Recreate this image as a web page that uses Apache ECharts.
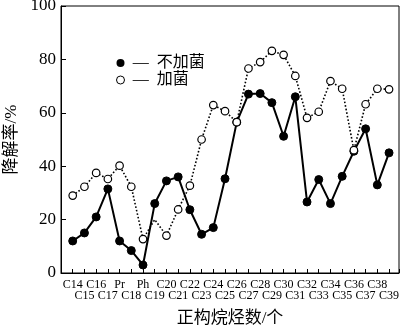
<!DOCTYPE html>
<html>
<head>
<meta charset="utf-8">
<script src="https://cdn.jsdelivr.net/npm/echarts@6/dist/echarts.min.js"></script>
<style>
html,body{margin:0;padding:0;background:#fff;}
#c{width:400px;height:327px;}
</style>
</head>
<body>
<div id="c"></div>
<script>
const categories = ['C14','C15','C16','C17','Pr','C18','Ph','C19','C20','C21','C22','C23','C24','C25','C26','C27','C28','C29','C30','C31','C32','C33','C34','C35','C36','C37','C38','C39'];
const noBacteria = [12,15,21,31.5,12,8.4,3,26,34.5,36,23.7,14.5,17,35.3,56.5,67,67.2,63.8,51.2,66,26.6,35,26,36.2,45.6,54,33,45];
const withBacteria = [29,32.3,37.5,35.2,40.2,32.3,12.7,20,14,23.8,32.7,50,62.9,60.6,56.5,76.6,79,83.2,81.7,73.8,58.1,60.4,71.9,69,46,63.2,69,68.8];
const yTicks = [0,20,40,60,80,100];
const seriesNames = ['不加菌','加菌'];
const xTitle = '正构烷烃数/个';
const yTitle = '降解率/%';
const unmarkedWith = [7];

const serif = '"Liberation Serif","Times New Roman","Noto Sans CJK SC",serif';
const chart = echarts.init(document.getElementById('c'), null, {renderer:'canvas'});
chart.setOption({
  animation:false,
  backgroundColor:'#fff',
  grid:{left:61,right:1,top:6,bottom:54,show:true,borderColor:'#000',borderWidth:1,containLabel:false,outerBoundsMode:'none'},
  legend:{
    orient:'vertical',left:111,top:50,itemWidth:8,itemHeight:8,itemGap:1,
    textStyle:{fontFamily:serif,fontSize:16,color:'#000'},
    formatter:n=>'\u2009—\u2002'+n,
    data:[
      {name:seriesNames[0],icon:'circle',itemStyle:{color:'#000',borderColor:'#000'}},
      {name:seriesNames[1],icon:'circle',itemStyle:{color:'#fff',borderColor:'#000',borderWidth:1}}
    ]
  },
  xAxis:{
    type:'value',min:-1,max:27.85,interval:1,
    name:xTitle,nameLocation:'middle',nameGap:37,
    nameTextStyle:{fontFamily:serif,fontSize:17,color:'#000'},
    axisLine:{onZero:false,lineStyle:{color:'#000',width:1}},
    axisTick:{inside:true,length:4,lineStyle:{color:'#000'}},
    splitLine:{show:false},
    axisLabel:{
      fontFamily:serif,fontSize:12,color:'#000',margin:7,lineHeight:10.5,showMinLabel:true,showMaxLabel:true,
      formatter:v=>{
        const i=Math.round(v);
        if(Math.abs(v-i)>1e-6||i<0||i>=categories.length) return '';
        return i%2===0?categories[i]:'\n'+categories[i];
      }
    }
  },
  yAxis:{
    type:'value',min:0,max:100,interval:20,
    name:yTitle,nameLocation:'middle',nameGap:41,nameRotate:90,
    nameTextStyle:{fontFamily:serif,fontSize:17,color:'#000'},
    axisLine:{show:true,onZero:false,lineStyle:{color:'#000',width:1}},
    axisTick:{show:true,inside:true,length:5,lineStyle:{color:'#000'}},
    splitLine:{show:false},
    axisLabel:{fontFamily:serif,fontSize:17,color:'#000',margin:5,
      formatter:v=>yTicks.includes(v)?String(v):''}
  },
  series:[
    {
      name:seriesNames[0],type:'line',z:2,
      data:noBacteria.map((v,i)=>[i,v]),
      symbol:'circle',symbolSize:8,
      itemStyle:{color:'#000',borderColor:'#000'},
      lineStyle:{color:'#000',width:2}
    },
    {
      name:seriesNames[1],type:'line',z:3,
      data:withBacteria.map((v,i)=>unmarkedWith.includes(i)?{value:[i,v],symbol:'none'}:[i,v]),
      symbol:'circle',symbolSize:7.5,
      itemStyle:{color:'#fff',borderColor:'#000',borderWidth:1.2},
      lineStyle:{color:'#000',width:1.6,type:[1.6,2]}
    }
  ]
});
</script>
</body>
</html>
